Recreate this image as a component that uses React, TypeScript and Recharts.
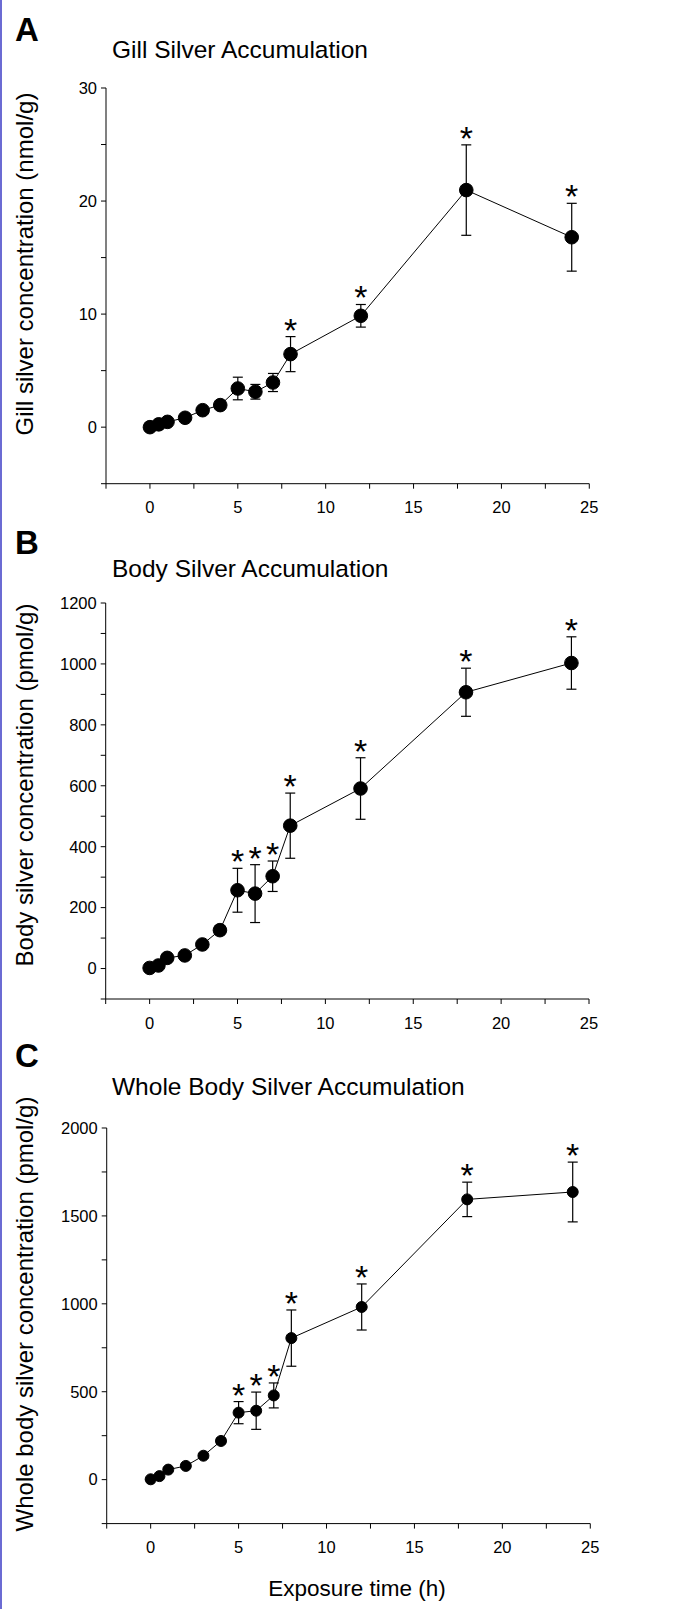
import React from 'react';
import {
  ComposedChart,
  Line,
  Scatter,
  ErrorBar,
  XAxis,
  YAxis
} from 'recharts';

const FONT = '"Liberation Sans", Arial, Helvetica, sans-serif';

// exposure time (h)
const hours = [0, 0.5, 1, 2, 3, 4, 5, 6, 7, 8, 12, 18, 24];

// gill silver (nmol/g)
const gillMean = [0, 0.25, 0.47, 0.83, 1.5, 1.95, 3.42, 3.13, 3.95, 6.46, 9.85, 20.97, 16.8];
const gillErr = [0.05, 0.1, 0.1, 0.15, 0.2, 0.2, 1.0, 0.65, 0.8, 1.55, 1.0, 4.0, 3.0];
const gillSig = [8, 12, 18, 24];

// body silver (pmol/g)
const bodyMean = [2, 10, 35, 43, 79, 126, 257, 246, 303, 469, 591, 907, 1003];
const bodyErr = [3, 5, 8, 8, 10, 15, 72, 95, 50, 107, 101, 79, 86];
const bodySig = [5, 6, 7, 8, 12, 18, 24];

// whole body silver (pmol/g)
const wholeMean = [2, 20, 57, 78, 136, 220, 381, 392, 479, 805, 982, 1594, 1636];
const wholeErr = [5, 8, 10, 10, 12, 15, 63, 106, 71, 160, 131, 98, 170];
const wholeSig = [5, 6, 7, 8, 12, 18, 24];

const xTicks = [-2.5, 0, 2.5, 5, 7.5, 10, 12.5, 15, 17.5, 20, 22.5, 25];
const gillTicks = [-5, 0, 5, 10, 15, 20, 25, 30];
const bodyTicks = [-100, 0, 100, 200, 300, 400, 500, 600, 700, 800, 900, 1000, 1100, 1200];
const wholeTicks = [-250, 0, 250, 500, 750, 1000, 1250, 1500, 1750, 2000];

const buildRows = (mean: number[], err: number[]) =>
  hours.map((t, i) => ({ t, v: mean[i], e: err[i] }));

const buildStars = (mean: number[], err: number[], sig: number[]) =>
  hours
    .map((t, i) => ({ t, top: mean[i] + err[i] }))
    .filter(d => sig.includes(d.t));

// asterisk drawn just above the top of the error bar
const Star = (props: any) => {
  const { cx, cy } = props;
  return (
    <text x={cx} y={cy + 5} textAnchor="middle" fontSize={34} fontFamily={FONT} fill="#000">
      *
    </text>
  );
};

interface PanelProps {
  top: number;
  left: number;
  right: number;
  bottom: number;
  domain: [number, number];
  ticks: number[];
  labelEvery: number;
  mean: number[];
  err: number[];
  sig: number[];
  r: number;
}

function Panel({ top, left, right, bottom, domain, ticks, labelEvery, mean, err, sig, r }: PanelProps) {
  const rows = buildRows(mean, err);
  const stars = buildStars(mean, err, sig);
  const plotH = bottom - top;
  const W = 685;
  const H = plotH + 70;
  return (
    <div style={{ position: 'absolute', left: 0, top: top - 20, width: W, height: H }}>
      <ComposedChart
        width={W}
        height={H}
        data={rows}
        margin={{ top: 20, right: W - right, bottom: 5, left: left - 60 }}
      >
        <XAxis
          dataKey="t"
          type="number"
          domain={[-2.5, 25]}
          ticks={xTicks}
          interval={0}
          allowDataOverflow
          height={45}
          tickSize={5}
          tickMargin={13}
          stroke="#000"
          tickLine={{ stroke: '#000' }}
          tick={{ fill: '#000', fontSize: 16.5, fontFamily: FONT }}
          tickFormatter={(v: number) => (v % 5 === 0 ? String(v) : '')}
        />
        <YAxis
          type="number"
          domain={domain}
          ticks={ticks}
          interval={0}
          allowDataOverflow
          width={60}
          tickSize={5}
          tickMargin={4}
          stroke="#000"
          tickLine={{ stroke: '#000' }}
          tick={{ fill: '#000', fontSize: 16.5, fontFamily: FONT }}
          tickFormatter={(v: number) => (v >= 0 && v % labelEvery === 0 ? String(v) : '')}
        />
        <Line
          dataKey="v"
          type="linear"
          stroke="#000"
          strokeWidth={1}
          dot={{ r, fill: '#000', stroke: '#000', strokeWidth: 1 }}
          activeDot={false}
          isAnimationActive={false}
        >
          <ErrorBar dataKey="e" width={5} stroke="#000" strokeWidth={1.2} direction="y" />
        </Line>
        <Scatter
          data={stars}
          dataKey="top"
          shape={<Star />}
          isAnimationActive={false}
        />
      </ComposedChart>
    </div>
  );
}

export default function App() {
  return (
    <div style={{ position: 'absolute', left: 0, top: 0, width: 685, height: 1609, background: '#fff', overflow: 'hidden' }}>
      <div style={{ position: 'absolute', left: 0, top: 0, width: 2, height: 1609, background: '#6b6bd3' }} />
      <Panel top={88.3} bottom={484} left={106} right={589.3} domain={[-5, 30]} ticks={gillTicks}
        labelEvery={10} mean={gillMean} err={gillErr} sig={gillSig} r={6.8} />
      <Panel top={603.3} bottom={999.3} left={105.7} right={589} domain={[-100, 1200]} ticks={bodyTicks}
        labelEvery={200} mean={bodyMean} err={bodyErr} sig={bodySig} r={6.8} />
      <Panel top={1127.7} bottom={1523.3} left={106.7} right={590.3} domain={[-250, 2000]} ticks={wholeTicks}
        labelEvery={500} mean={wholeMean} err={wholeErr} sig={wholeSig} r={5.5} />
      <svg width={685} height={1609} style={{ position: 'absolute', left: 0, top: 0, pointerEvents: 'none' }}
        fontFamily={FONT} fill="#000">
        <text x={15} y={41} fontSize={33} fontWeight="bold">A</text>
        <text x={15} y={554} fontSize={33} fontWeight="bold">B</text>
        <text x={15} y={1067} fontSize={33} fontWeight="bold">C</text>
        <text x={112} y={58} fontSize={24.5}>Gill Silver Accumulation</text>
        <text x={112} y={577} fontSize={24.5}>Body Silver Accumulation</text>
        <text x={112} y={1095} fontSize={24.5}>Whole Body Silver Accumulation</text>
        <text x={33} y={264} fontSize={24} textAnchor="middle" transform="rotate(-90 33 264)">
          Gill silver concentration (nmol/g)
        </text>
        <text x={33} y={785} fontSize={24} textAnchor="middle" transform="rotate(-90 33 785)">
          Body silver concentration (pmol/g)
        </text>
        <text x={33} y={1314} fontSize={24} textAnchor="middle" transform="rotate(-90 33 1314)">
          Whole body silver concentration (pmol/g)
        </text>
        <text x={357} y={1596} fontSize={22.5} textAnchor="middle">Exposure time (h)</text>
      </svg>
    </div>
  );
}
